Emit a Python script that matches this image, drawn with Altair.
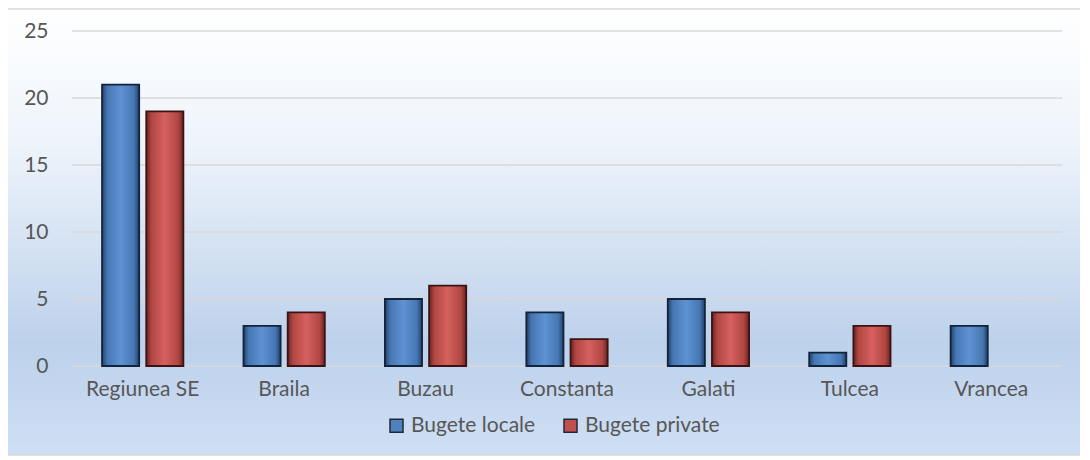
import altair as alt
import pandas as pd

categories = ["Regiunea SE", "Braila", "Buzau", "Constanta", "Galati", "Tulcea", "Vrancea"]
bugete_locale = [21, 3, 5, 4, 5, 1, 3]
bugete_private = [19, 4, 6, 2, 4, 3, 0]
series_names = ["Bugete locale", "Bugete private"]
y_ticks = [0, 5, 10, 15, 20, 25]

rows = []
for c, a, b in zip(categories, bugete_locale, bugete_private):
    rows.append({"cat": c, "serie": series_names[0], "val": a})
    rows.append({"cat": c, "serie": series_names[1], "val": b})
df = pd.DataFrame(rows)

W, H = 990, 335
FONT = "Lato"
FS = 21
TXT = "#575757"

def hgrad(edge, mid, inner):
    return {
        "gradient": "linear", "x1": 0, "x2": 1, "y1": 0, "y2": 0,
        "stops": [
            {"offset": 0, "color": edge},
            {"offset": 0.14, "color": inner},
            {"offset": 0.5, "color": mid},
            {"offset": 0.86, "color": inner},
            {"offset": 1, "color": edge},
        ],
    }

bg_grad = {
    "gradient": "linear", "x1": 0, "x2": 0, "y1": 0, "y2": 1,
    "stops": [
        {"offset": 0, "color": "#ffffff"},
        {"offset": 0.3, "color": "#eef4fb"},
        {"offset": 0.75, "color": "#bdd1eb"},
        {"offset": 1, "color": "#cfdff5"},
    ],
}

background = alt.Chart(alt.Data(values=[{"k": 1}])).mark_rect(
    fill=bg_grad, stroke="#d9d9d9", strokeWidth=1.5
).encode(
    x=alt.value(-65), x2=alt.value(1013), y=alt.value(-22), y2=alt.value(424)
)

grid = alt.Chart(pd.DataFrame({"t": y_ticks})).mark_rule(
    color="#d9d9d9", strokeWidth=1.5
).encode(
    y=alt.Y("t:Q", scale=alt.Scale(domain=[0, 25], nice=False),
            axis=alt.Axis(values=y_ticks, grid=False, domain=False, ticks=False,
                          labelFont=FONT, labelFontSize=FS, labelColor=TXT,
                          labelPadding=24, title=None, zindex=1)),
    x=alt.value(0), x2=alt.value(W),
)

xenc = alt.X("cat:N", sort=categories,
             scale=alt.Scale(paddingInner=0.4, paddingOuter=0.2),
             axis=alt.Axis(title=None, labelAngle=0, domain=False, ticks=False,
                           labelFont=FONT, labelFontSize=FS, labelColor=TXT,
                           labelPadding=12, zindex=1))
xoff = alt.XOffset("serie:N", sort=series_names,
                   scale=alt.Scale(paddingInner=0.16, paddingOuter=0.04))
yenc = alt.Y("val:Q", scale=alt.Scale(domain=[0, 25], nice=False), title=None)

solid = alt.Chart(df).mark_bar().encode(
    x=xenc, xOffset=xoff, y=yenc,
    color=alt.Color("serie:N", sort=series_names,
                    scale=alt.Scale(domain=series_names, range=["#4f81bd", "#c0504d"]),
                    legend=alt.Legend(title=None, orient="none", direction="horizontal",
                                      legendX=314, legendY=384,
                                      labelFont=FONT, labelFontSize=FS, labelColor=TXT,
                                      symbolType="square", symbolSize=169,
                                      symbolStrokeColor="#1e2a3a", symbolStrokeWidth=1.5,
                                      columnPadding=24, labelOffset=4)),
)

blue = alt.Chart(df).mark_bar(
    fill=hgrad("#22406a", "#5e92d3", "#4677b3"), stroke="#13233a", strokeWidth=1.8
).encode(x=xenc, xOffset=xoff, y=yenc).transform_filter(
    (alt.datum.serie == series_names[0]) & (alt.datum.val > 0))

red = alt.Chart(df).mark_bar(
    fill=hgrad("#6a2321", "#d6615e", "#b04643"), stroke="#3a1312", strokeWidth=1.8
).encode(x=xenc, xOffset=xoff, y=yenc).transform_filter(
    (alt.datum.serie == series_names[1]) & (alt.datum.val > 0))

chart = alt.layer(background, grid, solid, blue, red).properties(
    width=W, height=H,
    autosize=alt.AutoSizeParams(type="none"),
    padding={"left": 64, "top": 23, "right": 18, "bottom": 92},
).configure_view(stroke=None).configure(background="#ffffff")

chart.save("out.html", embed_options={"renderer": "svg", "actions": False})
